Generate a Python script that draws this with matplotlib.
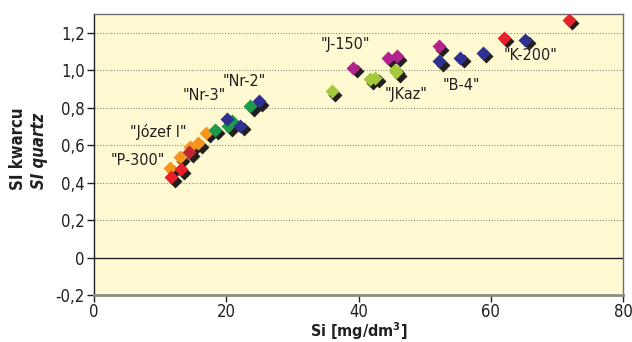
import matplotlib
matplotlib.use("Agg")
import matplotlib.pyplot as plt
import matplotlib.transforms as mtransforms

plt.rcParams['font.family'] = ['DejaVu Sans']
plt.rcParams['font.stretch'] = 'condensed'

# Data (x: Si mg/dm3, y: SI quartz)
red_x = [11.65, 13.1, 62.0, 71.8]
red_y = [0.429, 0.472, 1.172, 1.27]
darkred_x = [14.4]
darkred_y = [0.561]
orange_x = [11.5, 13.0, 14.5, 15.8, 17.0]
orange_y = [0.478, 0.536, 0.588, 0.611, 0.665]
green_x = [18.3, 20.8, 20.3, 23.6]
green_y = [0.682, 0.727, 0.70, 0.807]
blue_x = [20.1, 22.1, 24.9, 52.2, 55.4, 58.8, 65.2]
blue_y = [0.74, 0.704, 0.834, 1.048, 1.066, 1.093, 1.163]
magenta_x = [39.2, 44.4, 45.8, 52.1]
magenta_y = [1.012, 1.066, 1.074, 1.128]
lime_x = [35.95, 41.7, 42.5, 45.5, 45.7]
lime_y = [0.887, 0.953, 0.959, 1.003, 0.99]

labels = ['"P-300"', '"Józef I"', '"Nr-3"', '"Nr-2"', '"J-150"', '"JKaz"', '"B-4"', '"K-200"']
label_x = [6.66, 9.76, 16.6, 22.7, 38.0, 47.2, 55.5, 66.0]
label_y = [0.517, 0.672, 0.867, 0.939, 1.137, 0.872, 0.92, 1.08]

series = [
    (orange_x, orange_y, '#F7941D'),
    (darkred_x, darkred_y, '#C1272D'),
    (red_x, red_y, '#E8202A'),
    (green_x, green_y, '#1A9A4A'),
    (blue_x, blue_y, '#2E3192'),
    (magenta_x, magenta_y, '#B3228E'),
    (lime_x, lime_y, '#A6C83C'),
]

fig = plt.figure(figsize=(6.32, 3.42), dpi=100)
ax = fig.add_axes([0.1487, 0.1374, 0.8371, 0.8216])
ax.set_facecolor('#FFFAD2')

ax.set_xlim(0, 80)
ax.set_ylim(-0.2, 1.3)

for yv in [0.2, 0.4, 0.6, 0.8, 1.0, 1.2]:
    ax.axhline(yv, color='#8C8C7A', lw=0.8, ls=(0, (1, 1.5)), zorder=1)
ax.axhline(0, color='#231F20', lw=1.0, zorder=1)

shadow = mtransforms.offset_copy(ax.transData, fig=fig, x=3.5, y=-3.5, units='dots')
for xs, ys, c in series:
    ax.plot(xs, ys, ls='none', marker='D', ms=7.5, mfc='#231F20', mec='none',
            transform=shadow, zorder=3)
for xs, ys, c in series:
    ax.plot(xs, ys, ls='none', marker='D', ms=7.5, mfc=c, mec='none', zorder=4)

for t, lx, ly in zip(labels, label_x, label_y):
    ax.text(lx, ly, t, fontsize=11.5, color='#231F20', ha='center', va='center', zorder=5)

ax.set_xticks([0, 20, 40, 60, 80])
ax.set_yticks([-0.2, 0, 0.2, 0.4, 0.6, 0.8, 1.0, 1.2])
ax.set_yticklabels(['-0,2', '0', '0,2', '0,4', '0,6', '0,8', '1,0', '1,2'])
ax.tick_params(axis='both', direction='out', length=5, width=1, color='#231F20',
               labelsize=12, labelcolor='#231F20', pad=1.5)
ax.tick_params(axis='x', pad=0.5)

for s in ['top', 'right']:
    ax.spines[s].set_color('#6D6E71')
    ax.spines[s].set_linewidth(1.0)
ax.spines['bottom'].set_color('#8C8C85')
ax.spines['bottom'].set_linewidth(2.0)
ax.spines['left'].set_color('#231F20')
ax.spines['left'].set_linewidth(1.0)

ax.set_xlabel('Si [mg/dm$^\\mathbf{3}$]', fontsize=11.5, fontweight='bold', color='#231F20', labelpad=-0.5)
fig.text(0.028, 0.564, 'SI kwarcu', rotation=90, ha='center', va='center',
         fontsize=12, fontweight='bold', color='#231F20')
fig.text(0.062, 0.56, 'SI quartz', rotation=90, ha='center', va='center',
         fontsize=12, fontweight='bold', fontstyle='italic', color='#231F20')

fig.savefig('out.png', dpi=100)
